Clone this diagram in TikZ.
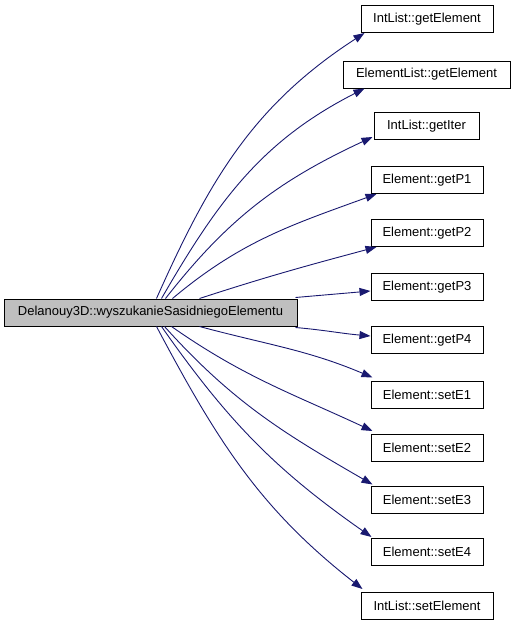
\documentclass[tikz,border=0pt]{standalone}
\usepackage{fontspec}
\setmainfont{Liberation Sans}
\usetikzlibrary{arrows.meta,calc}
\definecolor{edgeblue}{HTML}{191970}
\definecolor{mainfill}{HTML}{BFBFBF}
\begin{document}
\begin{tikzpicture}[x=1pt,y=1pt,
  box/.style={draw=black,line width=1pt,fill=white,minimum height=27pt,inner sep=0pt,
    font=\fontsize{13}{15}\selectfont},
  mainbox/.style={box,fill=mainfill},
  call/.style={draw=edgeblue,line width=0.9pt,-{Triangle[length=11pt,width=8pt]}}]
\useasboundingbox (0,0) rectangle (515,-627);
\node[mainbox,minimum width=293pt] (main) at (150.5,-312.5) {Delanouy3D::wyszukanieSasidniegoElementu};
\node[box,minimum width=132pt] (t1) at (427,-19) {IntList::getElement};
\node[box,minimum width=167pt] (t2) at (426.5,-74.5) {ElementList::getElement};
\node[box,minimum width=105pt] (t3) at (426.5,-126) {IntList::getIter};
\node[box,minimum width=112pt] (t4) at (427,-180) {Element::getP1};
\node[box,minimum width=112pt] (t5) at (427,-233) {Element::getP2};
\node[box,minimum width=112pt] (t6) at (427,-287) {Element::getP3};
\node[box,minimum width=112pt] (t7) at (427,-340) {Element::getP4};
\node[box,minimum width=112pt] (t8) at (427,-394.5) {Element::setE1};
\node[box,minimum width=112pt] (t9) at (427,-448) {Element::setE2};
\node[box,minimum width=112pt] (t10) at (427,-499.5) {Element::setE3};
\node[box,minimum width=112pt] (t11) at (427,-552) {Element::setE4};
\node[box,minimum width=132pt] (t12) at (427,-606) {IntList::setElement};
% edges
\draw[call] ($(main.north west)+(153,0)$) to[out=66,in=213] ($(t1.south west)+(4,0)$);
\draw[call] ($(main.north west)+(158,0)$) to[out=60,in=207] ($(t2.south west)+(22,0)$);
\draw[call] ($(main.north west)+(162,0)$) to[out=52,in=205] ($(t3.south west)+(-1,3)$);
\draw[call] ($(main.north west)+(169,0)$) to[out=40,in=200] ($(t4.south west)+(6,0)$);
\draw[call] ($(main.north west)+(196,0)$) to[out=18,in=195] ($(t5.south west)+(6,0)$);
\draw[call] ($(main.north east)+(-2,1)$) to[out=5,in=185] ($(t6.west)+(0,-4)$);
\draw[call] ($(main.south east)+(-2,-1)$) to[out=-5,in=175] ($(t7.west)+(0,4)$);
\draw[call] ($(main.south west)+(196,0)$) to[out=-15,in=157] ($(t8.north west)+(2,3)$);
\draw[call] ($(main.south west)+(168,0)$) to[out=-35,in=155] ($(t9.north west)+(2,3)$);
\draw[call] ($(main.south west)+(161,0)$) to[out=-48,in=150] ($(t10.north west)+(2,1)$);
\draw[call] ($(main.south west)+(158,0)$) to[out=-55,in=145] ($(t11.north west)+(1,1)$);
\draw[call] ($(main.south west)+(153,0)$) to[out=-62,in=142] ($(t12.north west)+(2,3)$);
\end{tikzpicture}
\end{document}
